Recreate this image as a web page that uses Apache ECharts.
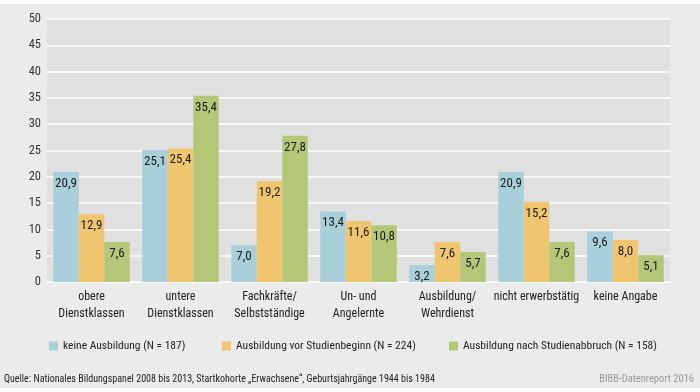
<!DOCTYPE html>
<html><head><meta charset="utf-8">
<script src="https://cdn.jsdelivr.net/npm/echarts@6/dist/echarts.min.js"></script>
<style>html,body{margin:0;padding:0;background:#fff}#c{width:700px;height:392px}</style>
</head><body><div id="c"></div>
<script>
const categories = ['obere\nDienstklassen','untere\nDienstklassen','Fachkräfte/\nSelbstständige','Un- und\nAngelernte','Ausbildung/\nWehrdienst','nicht erwerbstätig','keine Angabe'];
const seriesNames = ['keine Ausbildung (N = 187)','Ausbildung vor Studienbeginn (N = 224)','Ausbildung nach Studienabbruch (N = 158)'];
const keineAusbildung = [20.9, 25.1, 7.0, 13.4, 3.2, 20.9, 9.6];
const vorStudienbeginn = [12.9, 25.4, 19.2, 11.6, 7.6, 15.2, 8.0];
const nachStudienabbruch = [7.6, 35.4, 27.8, 10.8, 5.7, 7.6, 5.1];
const yTicks = [0,5,10,15,20,25,30,35,40,45,50];
const colors = ['#a8cfda','#efc56f','#b4c778'];
const FONT = '"Roboto Condensed","Liberation Sans Narrow",sans-serif';
const chart = echarts.init(document.getElementById('c'));
const data = [keineAusbildung, vorStudienbeginn, nachStudienabbruch];
chart.setOption({
  animation:false,
  backgroundColor:'#fff',
  textStyle:{fontFamily:FONT},
  graphic:[
    {type:'rect',z:-10,silent:true,shape:{x:0,y:4,width:700,height:384},style:{fill:'#ebebeb'}},
    {type:'text',left:4,top:374,style:{text:'Quelle: Nationales Bildungspanel 2008 bis 2013, Startkohorte „Erwachsene“, Geburtsjahrgänge 1944 bis 1984',fill:'#222',font:'10px '+FONT}},
    {type:'text',right:6,top:374,style:{text:'BIBB-Datenreport 2016',fill:'#9a9a9a',font:'10.5px '+FONT}}
  ],
  legend:[0,1,2].map((i)=>({
    data:[seriesNames[i]], left:[44,217,444][i], top:335, icon:'rect', itemWidth:9, itemHeight:9, itemGap:6,
    textStyle:{fontFamily:FONT,fontSize:11.5,color:'#222'}
  })),
  grid:{left:47,right:30,top:19,bottom:110,show:true,backgroundColor:'#e0e0e0',borderWidth:0},
  xAxis:{type:'category',data:categories,axisLine:{show:false},axisTick:{show:false},
    axisLabel:{fontFamily:FONT,fontSize:12,color:'#222',lineHeight:17,margin:6,interval:0}},
  yAxis:{type:'value',min:0,max:50,interval:5,axisLine:{show:false},axisTick:{show:false},
    axisLabel:{fontFamily:FONT,fontSize:12.5,color:'#333',margin:6,formatter:(v)=>yTicks.includes(v)?String(v):''},
    splitLine:{lineStyle:{color:'#ffffff',width:1.5}}},
  series:[0,1,2].map((i)=>({
    name:seriesNames[i], type:'bar', data:data[i], barWidth:25.5, barGap:'0%',
    itemStyle:{color:colors[i]},
    label:{show:true,position:'insideTop',distance:5,color:'#1a1a1a',fontFamily:FONT,fontSize:13,
      formatter:(p)=>p.value.toFixed(1).replace('.',',')}
  }))
});
</script></body></html>
